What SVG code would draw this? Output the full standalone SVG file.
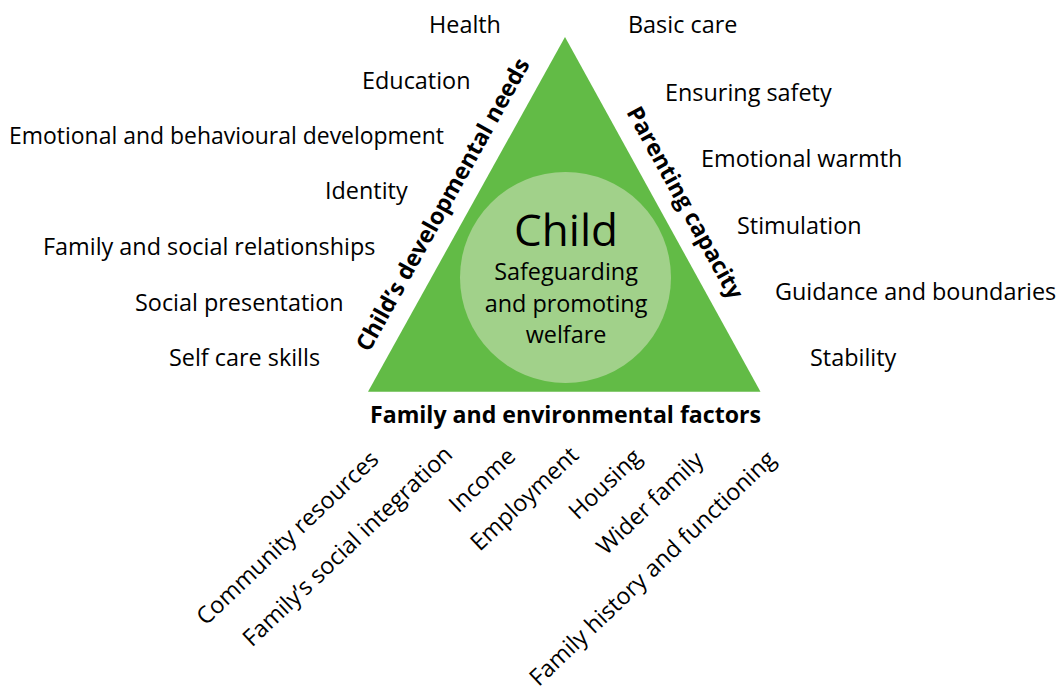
<svg xmlns="http://www.w3.org/2000/svg" width="1058" height="691" viewBox="0 0 1058 691">
<style>
.lbl{font-family:"Open Sans","Liberation Sans",sans-serif;font-size:23.4px;fill:#000}
.side{font-family:"Open Sans","Liberation Sans",sans-serif;font-size:23px;font-weight:bold;fill:#000}
.ctr{font-family:"Open Sans","Liberation Sans",sans-serif;fill:#000;text-anchor:middle}
</style>
<rect width="1058" height="691" fill="#fff"/>
<g id="triangle">
<polygon points="565,37 368,391.7 760.5,391.7" fill="#62BB46"/>
</g>
<g id="child">
<circle cx="565.5" cy="277.5" r="105.5" fill="#A1D18A"/>
<text class="ctr" x="566" y="246" font-size="44">Child</text>
<text class="ctr" x="566" y="280" font-size="23.4">Safeguarding</text>
<text class="ctr" x="566" y="311.5" font-size="23.4">and promoting</text>
<text class="ctr" x="566" y="343" font-size="23.4">welfare</text>
</g>
<g id="side-labels">
<text class="side" transform="translate(369,353) rotate(-60.83)" textLength="331" lengthAdjust="spacingAndGlyphs">Child’s developmental needs</text>
<text class="side" transform="translate(626,112) rotate(61.13)" textLength="216" lengthAdjust="spacingAndGlyphs">Parenting capacity</text>
<text class="side" x="370" y="423" font-size="23.5" textLength="391" lengthAdjust="spacingAndGlyphs">Family and environmental factors</text>
</g>
<g id="developmental-needs">
<text class="lbl" x="429" y="33">Health</text>
<text class="lbl" x="362" y="89">Education</text>
<text class="lbl" x="9" y="144" textLength="435" lengthAdjust="spacingAndGlyphs">Emotional and behavioural development</text>
<text class="lbl" x="325" y="199">Identity</text>
<text class="lbl" x="43" y="255">Family and social relationships</text>
<text class="lbl" x="135" y="311">Social presentation</text>
<text class="lbl" x="169" y="366">Self care skills</text>
</g>
<g id="parenting-capacity">
<text class="lbl" x="628" y="33">Basic care</text>
<text class="lbl" x="665" y="100.5">Ensuring safety</text>
<text class="lbl" x="701" y="167">Emotional warmth</text>
<text class="lbl" x="737" y="233.5">Stimulation</text>
<text class="lbl" x="775" y="300">Guidance and boundaries</text>
<text class="lbl" x="810" y="366">Stability</text>
</g>
<g id="family-factors" text-anchor="end">
<text class="lbl" transform="translate(380,461) rotate(-43.5)">Community resources</text>
<text class="lbl" transform="translate(454,456) rotate(-43.5)">Family’s social integration</text>
<text class="lbl" transform="translate(517,458) rotate(-43.5)">Income</text>
<text class="lbl" transform="translate(580,457) rotate(-43.5)">Employment</text>
<text class="lbl" transform="translate(643,459) rotate(-43.5)">Housing</text>
<text class="lbl" transform="translate(705,462) rotate(-43.5)">Wider family</text>
<text class="lbl" transform="translate(777,461) rotate(-43.5)">Family history and functioning</text>
</g>
</svg>
